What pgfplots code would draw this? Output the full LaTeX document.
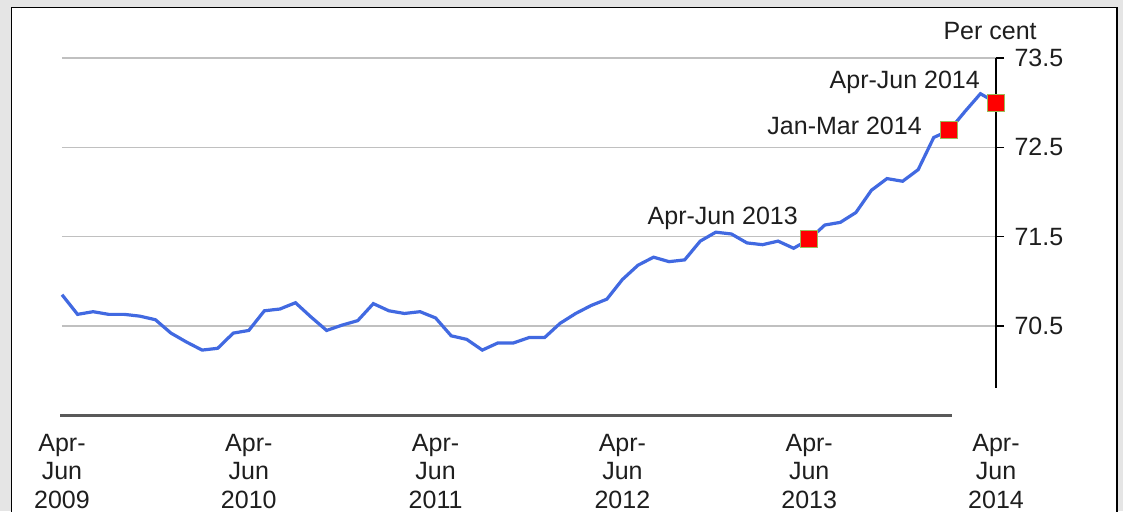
\documentclass[border=0pt]{standalone}
\usepackage{pgfplots}
\pgfplotsset{compat=1.18}
\usepackage{fontspec}
\setmainfont{Liberation Sans}
\definecolor{bggrey}{RGB}{229,229,229}
\definecolor{linecol}{RGB}{65,105,225}
\definecolor{gridcol}{RGB}{192,192,192}
\definecolor{axcol}{RGB}{89,89,89}
\definecolor{mkborder}{RGB}{155,187,89}
\definecolor{txtcol}{RGB}{30,30,30}
\begin{document}
\begin{tikzpicture}
\fill[bggrey] (-62pt,-95.7pt) rectangle (1061pt,415.3pt);
\begin{scope}
\clip (-62pt,-95.7pt) rectangle (1061pt,415.3pt);
\filldraw[fill=white,draw=black,line width=1.6pt] (-50.5pt,-110pt) rectangle (1055pt,407.8pt);
\end{scope}
\begin{axis}[
  scale only axis,
  width=934pt, height=357.3pt,
  xmin=0, xmax=60, ymin=69.5, ymax=73.5,
  clip=false,
  axis line style={draw=none},
  font=\fontsize{25}{28.5}\selectfont,
  every tick label/.append style={text=txtcol},
  ytick={70.5,71.5,72.5,73.5},
  ytick pos=right,
  yticklabel style={/pgf/number format/.cd,fixed,fixed zerofill,precision=1,/tikz/.cd, xshift=7pt},
  /pgf/number format/assume math mode=true,
  ymajorgrids,
  grid style={gridcol,line width=1.5pt},
  tick align=outside,
  major tick length=8pt,
  ytick style={black,line width=1.5pt},
  xtick={0,12,24,36,48,60},
  xticklabels={{Apr-\\Jun\\2009},{Apr-\\Jun\\2010},{Apr-\\Jun\\2011},{Apr-\\Jun\\2012},{Apr-\\Jun\\2013},{Apr-\\Jun\\2014}},
  xticklabel style={align=center,yshift=-7pt},
  xtick style={draw=none},
]
\draw[axcol,line width=3pt] (axis cs:-0.1,69.5) -- (axis cs:57.2,69.5);
\draw[black,line width=1.5pt] (axis cs:60,69.81) -- (axis cs:60,73.5);
\addplot[linecol,line width=3.2pt,no marks] coordinates {
(0,70.85) (1,70.63) (2,70.66) (3,70.63) (4,70.63) (5,70.61) (6,70.57) (7,70.42) (8,70.32) (9,70.23)
(10,70.25) (11,70.42) (12,70.45) (13,70.67) (14,70.69) (15,70.76) (16,70.60) (17,70.45) (18,70.51) (19,70.56)
(20,70.75) (21,70.67) (22,70.64) (23,70.66) (24,70.59) (25,70.39) (26,70.35) (27,70.23) (28,70.31) (29,70.31)
(30,70.37) (31,70.37) (32,70.53) (33,70.64) (34,70.73) (35,70.80) (36,71.02) (37,71.18) (38,71.27) (39,71.22)
(40,71.24) (41,71.45) (42,71.55) (43,71.53) (44,71.43) (45,71.41) (46,71.45) (47,71.37) (48,71.47) (49,71.63)
(50,71.66) (51,71.77) (52,72.02) (53,72.15) (54,72.12) (55,72.25) (56,72.61) (57,72.69) (58,72.90) (59,73.10)
(60,73.00)
};
\addplot[only marks,mark=square*,mark size=8.5pt,mark options={fill=red,draw=mkborder,line width=1.2pt}] coordinates {
(48,71.47) (57,72.69) (60,73.00)
};
\node[anchor=base east,inner sep=0pt,text=txtcol] at (axis cs:47.28,71.64) {Apr-Jun 2013};
\node[anchor=base east,inner sep=0pt,text=txtcol] at (axis cs:55.24,72.64) {Jan-Mar 2014};
\node[anchor=base east,inner sep=0pt,text=txtcol] at (axis cs:58.97,73.16) {Apr-Jun 2014};
\node[anchor=base,inner sep=0pt,text=txtcol] at (axis cs:59.62,73.71) {Per cent};
\end{axis}
\end{tikzpicture}
\end{document}
